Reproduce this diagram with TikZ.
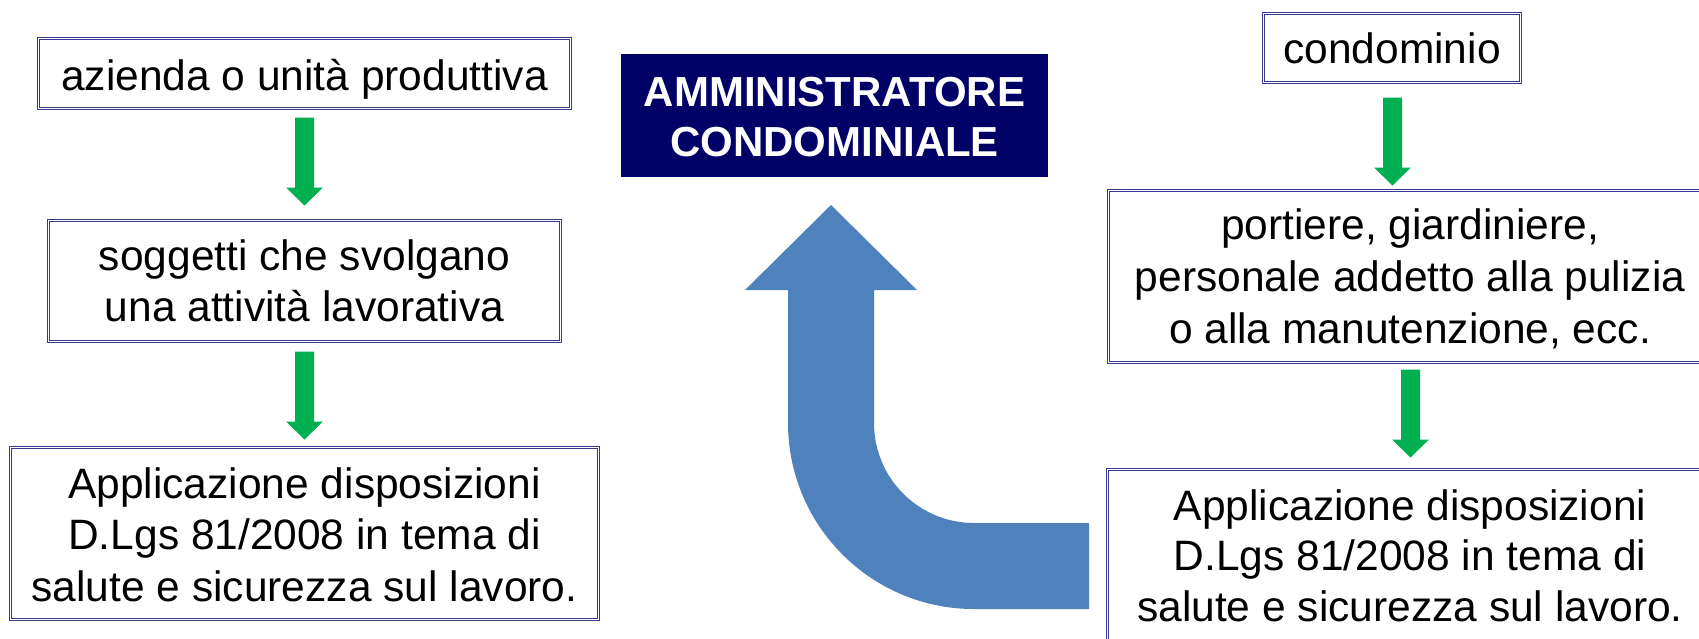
\documentclass[tikz,border=0pt]{standalone}
\usepackage{fontspec}
\setmainfont{Liberation Sans}
\usetikzlibrary{calc}
\definecolor{bordc}{RGB}{56,56,140}
\definecolor{navyfill}{RGB}{0,0,102}
\definecolor{arrgreen}{RGB}{0,176,80}
\definecolor{arrblue}{RGB}{79,129,189}
\tikzset{
  boxs/.style={draw=bordc, double=white, double distance=1.2pt, line width=0.8pt, fill=white, inner sep=0pt, outer sep=0pt},
  txt/.style={inner sep=0pt, anchor=base, font=\fontsize{42.5pt}{50pt}\selectfont},
  titletxt/.style={inner sep=0pt, anchor=base, text=white, font=\fontsize{42pt}{50pt}\selectfont\bfseries},
  garrow/.style={fill=arrgreen},
  bluearrow/.style={fill=arrblue}
}
\newcommand{\garrow}[2]{%
  \fill[garrow] ($(#1)+(-9.5,0)$) -- ($(#1)+(9.5,0)$) -- ($(#2)+(9.5,-18)$) -- ($(#2)+(18.5,-18)$) -- (#2) -- ($(#2)+(-18.5,-18)$) -- ($(#2)+(-9.5,-18)$) -- cycle;}
\begin{document}
\begin{tikzpicture}[x=1pt,y=-1pt]
\path[use as bounding box, clip] (0,0) rectangle (1699,638);
\fill[white] (0,0) rectangle (1699,638);

% left column
\node[boxs, minimum width=532pt, minimum height=70pt] (b1) at (304.5,73.5) {};
\node[txt] (b1t) at (304.5,90) {azienda o unità produttiva};

\node[boxs, minimum width=512pt, minimum height=121pt] (b2) at (304.5,281) {};
\node[txt] (b2t1) at (304.5,270) {soggetti che svolgano};
\node[txt] (b2t2) at (304.5,321) {una attività lavorativa};

\node[boxs, minimum width=588pt, minimum height=172pt] (b3) at (304.5,533.5) {};
\node[txt] (b3t1) at (304.5,498) {Applicazione disposizioni};
\node[txt] (b3t2) at (304.5,549) {D.Lgs 81/2008 in tema di};
\node[txt] (b3t3) at (304.5,601) {salute e sicurezza sul lavoro.};

% title
\node[fill=navyfill, minimum width=427pt, minimum height=123pt, inner sep=0pt] (title) at (834.5,115.5) {};
\node[titletxt] (tt1) at (834.5,106) {AMMINISTRATORE};
\node[titletxt] (tt2) at (834.5,156) {CONDOMINIALE};

% right column
\node[boxs, minimum width=257pt, minimum height=69pt] (c1) at (1392,48) {};
\node[txt] (c1t) at (1392,63) {condominio};

\node[boxs, minimum width=603pt, minimum height=172pt] (c2) at (1410,276.5) {};
\node[txt] (c2t1) at (1410,239) {portiere, giardiniere,};
\node[txt] (c2t2) at (1410,291) {personale addetto alla pulizia};
\node[txt] (c2t3) at (1410,343) {o alla manutenzione, ecc.};

\node[boxs, minimum width=605pt, minimum height=172pt] (c3) at (1410,555.5) {};
\node[txt] (c3t1) at (1410,520) {Applicazione disposizioni};
\node[txt] (c3t2) at (1410,570) {D.Lgs 81/2008 in tema di};
\node[txt] (c3t3) at (1410,621) {salute e sicurezza sul lavoro.};

% green arrows
\coordinate (a1s) at ($(b1.south)+(0,9)$);
\coordinate (a1e) at ($(b2.north)+(0,-15)$);
\coordinate (a1t) at (a1s |- a1e);
\garrow{a1s}{a1t}

\coordinate (a2s) at ($(b2.south)+(0,10)$);
\coordinate (a2e) at ($(b3.north)+(0,-8)$);
\coordinate (a2t) at (a2s |- a2e);
\garrow{a2s}{a2t}

\coordinate (a3s) at ($(c1.south)+(0.5,15)$);
\coordinate (a3e) at ($(c2.north)+(0,-5)$);
\coordinate (a3t) at (a3s |- a3e);
\garrow{a3s}{a3t}

\coordinate (a4s) at ($(c2.south)+(0.5,7)$);
\coordinate (a4e) at ($(c3.north)+(0,-12)$);
\coordinate (a4t) at (a4s |- a4e);
\garrow{a4s}{a4t}

% blue bent arrow
\fill[bluearrow] (1089,523) -- (974,523)
  arc[start angle=270, end angle=180, radius=100pt]
  -- (874,290) -- (917,290) -- (831,205) -- (745,290) -- (788,290) -- (788,423)
  arc[start angle=180, end angle=270, radius=186pt]
  -- (1089,609) -- cycle;
\end{tikzpicture}
\end{document}
